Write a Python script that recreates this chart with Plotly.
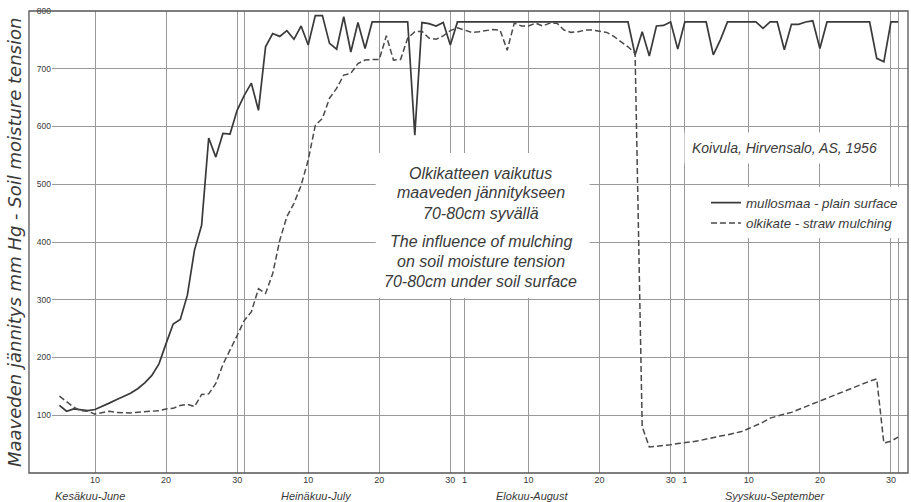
import plotly.graph_objects as go

# Day index: June 1 = 1, July 1 = 31, August 1 = 62, September 1 = 93, October 1 = 123
days = list(range(5, 124))

plain_surface = [
    117, 107, 111, 110, 108, 110, 115, 121, 127, 133,   # 5-14
    138, 146, 156, 169, 189, 224, 258, 266, 308, 386,   # 15-24
    429, 580, 547, 588, 587, 628, 654, 675, 628, 738,   # 25-34
    761, 756, 766, 751, 774, 741, 792, 792, 744, 734,   # 35-44
    790, 729, 780, 735, 781, 781, 781, 781, 781, 781,   # 45-54
    585, 780, 778, 774, 780, 741, 781, 781, 781, 781,   # 55-64
    781, 781, 781, 781, 781, 781, 781, 781, 781, 781,   # 65-74
    781, 781, 781, 781, 781, 781, 781, 781, 781, 781,   # 75-84
    781, 724, 764, 722, 774, 775, 781, 734, 781, 781,   # 85-94
    781, 781, 724, 750, 781, 781, 781, 781, 781, 770,   # 95-104
    781, 781, 733, 777, 777, 781, 783, 735, 781, 781,   # 105-114
    781, 781, 781, 781, 781, 718, 712, 781, 781,        # 115-123
]

straw_mulching = [
    133, 123, 114, 108, 107, 102, 104, 107, 105, 104,   # 5-14
    104, 105, 106, 107, 108, 111, 112, 117, 119, 115,   # 15-24
    136, 137, 155, 188, 212, 238, 264, 279, 319, 311,   # 25-34
    345, 403, 444, 467, 498, 542, 602, 614, 649, 666,   # 35-44
    689, 692, 709, 715, 716, 716, 757, 715, 716, 753,   # 45-54
    764, 765, 753, 751, 757, 766, 771, 767, 763, 764,   # 55-64
    766, 768, 767, 732, 779, 774, 774, 779, 774, 779,   # 65-74
    779, 767, 763, 764, 767, 767, 765, 763, 756, 747,   # 75-84
    738, 727, 80, 45, 46, 48, 49, 51, 52, 54,           # 85-94
    56, 59, 61, 64, 66, 69, 72, 77, 82, 88,             # 95-104
    95, 99, 102, 105, 110, 115, 119, 124, 129, 134,     # 105-114
    139, 144, 149, 154, 159, 163, 52, 55, 62,           # 115-123
]

y_ticks = [100, 200, 300, 400, 500, 600, 700, 800]
x_tick_days = [10, 20, 30, 31, 40, 50, 60, 62, 71, 81, 91, 93, 102, 112, 122, 123]
x_tick_labels = ["10", "20", "30", "", "10", "20", "30", "1", "10", "20", "30", "1",
                 "10", "20", "30", ""]
month_names = ["Kesäkuu-June", "Heinäkuu-July", "Elokuu-August", "Syyskuu-September"]
month_centres = [9.3, 41.2, 71.5, 105.7]

series_names = ["mullosmaa - plain surface", "olkikate - straw mulching"]
y_title = "Maaveden jännitys mm Hg - Soil moisture tension"
source_text = "Koivula, Hirvensalo, AS, 1956"
title_lines = ["Olkikatteen vaikutus", "maaveden jännitykseen", "70-80cm syvällä",
               "The influence of mulching", "on soil moisture tension",
               "70-80cm under soil surface"]
title_line_y = [519, 485, 450, 401, 367, 332]

INK = "#3a3a3a"
GRID = "#9a9a9a"
TXT_FONT = "Liberation Sans"

fig = go.Figure()
fig.add_trace(go.Scatter(
    x=days, y=plain_surface, mode="lines", name=series_names[0],
    line=dict(color=INK, width=1.7),
))
fig.add_trace(go.Scatter(
    x=days, y=straw_mulching, mode="lines", name=series_names[1],
    line=dict(color="#4a4a4a", width=1.5, dash="6px,3px"),
))

annotations = []
for name, cx in zip(month_names, month_centres):
    annotations.append(dict(
        x=cx, xref="x", y=0, yref="paper", yshift=-23, showarrow=False,
        text=name, xanchor="center", yanchor="middle",
        font=dict(family=TXT_FONT, size=11, color=INK, style="italic"),
    ))
for line, ly in zip(title_lines, title_line_y):
    annotations.append(dict(
        x=64.3, xref="x", y=ly, yref="y", showarrow=False, text=line,
        xanchor="center", yanchor="middle",
        font=dict(family=TXT_FONT, size=16, color=INK, style="italic"),
    ))
annotations.append(dict(
    x=107.0, xref="x", y=563, yref="y", showarrow=False, text=source_text,
    xanchor="center", yanchor="middle", bgcolor="white", borderpad=7,
    font=dict(family=TXT_FONT, size=14, color=INK, style="italic"),
))
annotations.append(dict(
    x=-0.0444, xref="paper", y=0.50, yref="paper", showarrow=False,
    text=y_title, textangle=-90, xanchor="center", yanchor="middle",
    font=dict(family="DejaVu Sans", size=18, color=INK, style="italic"),
))

shapes = [
    # white patch behind the central caption (gridlines are broken there)
    dict(type="rect", xref="x", yref="y", x0=49.5, x1=79.6, y0=303, y1=554,
         fillcolor="white", line=dict(width=0), layer="between"),
    # drawing frame
    dict(type="rect", xref="paper", yref="paper", x0=-0.0269, x1=1, y0=0, y1=1,
         line=dict(color="#555555", width=1.3), layer="above"),
]

fig.update_layout(
    width=911, height=502, autosize=False,
    margin=dict(l=52, r=3, t=11, b=29),
    paper_bgcolor="white", plot_bgcolor="white",
    showlegend=True,
    legend=dict(
        x=0.764, y=0.618, xanchor="left", yanchor="top",
        bgcolor="white", borderwidth=0, tracegroupgap=0,
        font=dict(family=TXT_FONT, size=13.3, color=INK, style="italic"),
    ),
    xaxis=dict(
        range=[3.95, 124.4], tickmode="array", tickvals=x_tick_days,
        ticktext=x_tick_labels, showgrid=True, gridcolor=GRID, gridwidth=0.9,
        zeroline=False, showline=False, ticks="",
        tickfont=dict(family=TXT_FONT, size=9, color=INK),
    ),
    yaxis=dict(
        range=[0, 800], tickmode="array", tickvals=y_ticks,
        showgrid=True, gridcolor=GRID, gridwidth=0.9,
        zeroline=False, showline=False, ticks="",
        tickfont=dict(family=TXT_FONT, size=8.5, color=INK),
    ),
    annotations=annotations,
    shapes=shapes,
    hovermode=False,
)

fig.write_html("out.html", config={"displayModeBar": False},
               post_script="document.body.style.margin='0px';")
